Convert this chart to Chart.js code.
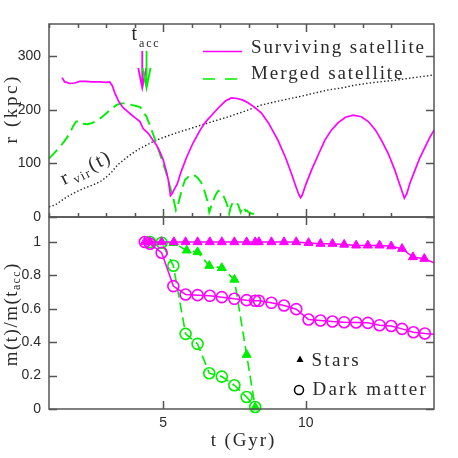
<!DOCTYPE html>
<html>
<head>
<meta charset="utf-8">
<script src="https://cdn.jsdelivr.net/npm/chart.js@4/dist/chart.umd.min.js"></script>
<style>
  html, body { margin: 0; padding: 0; background: #fff; }
  #wrap { position: relative; width: 458px; height: 458px; }
  canvas { position: absolute; left: 0; top: 0; }
</style>
</head>
<body>
<div id="wrap">
  <canvas id="bottom" width="458" height="458"></canvas>
  <canvas id="top" width="458" height="458"></canvas>
</div>
<script>
// ---- data: orbital radius (top panel) ----
const survT = [1.46, 1.55, 1.62, 1.73, 1.9, 2.08, 2.3, 2.5, 2.78, 3.0, 3.13, 3.22, 3.31, 3.45, 3.6, 3.84, 4.0, 4.19, 4.3, 4.48, 4.65, 4.77, 4.9, 5.0, 5.1, 5.18, 5.26, 5.32, 5.4, 5.5, 5.65, 5.83, 6.05, 6.3, 6.5, 6.76, 7.0, 7.2, 7.4, 7.6, 7.8, 7.98, 8.2, 8.45, 8.7, 9.03, 9.3, 9.5, 9.65, 9.76, 9.82, 9.88, 10.0, 10.2, 10.45, 10.67, 10.9, 11.14, 11.4, 11.67, 11.95, 12.2, 12.45, 12.66, 12.9, 13.13, 13.3, 13.46, 13.55, 13.65, 13.83, 14.0, 14.19, 14.35, 14.5];
const survR = [260, 252, 251, 249, 250, 253, 253, 252, 252, 251, 252, 245, 231, 215, 204, 193, 186, 178, 165, 156, 143, 134, 120, 107, 88, 70, 40, 44, 52, 62, 87, 112, 138, 162, 178, 193, 207, 217, 222, 221, 218, 213, 205, 194, 175, 143, 110, 81, 58, 42, 36, 41, 60, 87, 117, 143, 162, 176, 186, 190, 187, 178, 162, 143, 118, 87, 60, 35, 44, 62, 87, 110, 131, 148, 162];

const mergT = [1.0, 1.2, 1.38, 1.55, 1.73, 1.85, 1.95, 2.05, 2.2, 2.35, 2.5, 2.66, 2.85, 3.0, 3.2, 3.37, 3.55, 3.7, 3.9, 4.05, 4.19, 4.3, 4.42, 4.6, 4.77, 4.95, 5.12, 5.25, 5.36, 5.45, 5.52, 5.59, 5.68, 5.77, 5.9, 6.0, 6.12, 6.23, 6.33, 6.41, 6.48, 6.55, 6.62, 6.7, 6.76, 6.85, 6.94, 7.03, 7.11, 7.18, 7.25, 7.32, 7.37, 7.44, 7.52, 7.58, 7.64, 7.72, 7.77, 7.81, 7.86, 7.9, 7.95, 7.99, 8.05, 8.11, 8.2, 8.28];
const mergR = [109, 120, 131, 142, 156, 170, 178, 179, 174, 173, 175, 179, 186, 193, 202, 209, 212, 212, 209, 207, 205, 197, 187, 162, 137, 108, 81, 55, 35, 13, 22, 37, 55, 69, 76, 79, 77, 72, 65, 56, 44, 31, 9, 22, 31, 42, 49, 46, 40, 32, 22, 6, 18, 27, 29, 26, 22, 9, 16, 19, 15, 11, 12, 9, 8, 6, 6, 5];

const virT = [1.0, 1.1, 1.26, 1.45, 1.61, 1.85, 2.08, 2.3, 2.55, 2.8, 3.0, 3.2, 3.42, 3.7, 3.9, 4.1, 4.3, 4.6, 4.89, 5.2, 5.47, 5.9, 6.3, 6.8, 7.35, 7.9, 8.45, 9.1, 9.74, 10.3, 10.79, 11.3, 11.73, 12.4, 13.13, 13.8, 14.5];
const virR = [19, 20, 24, 31, 37, 44, 50, 55, 60, 66, 74, 84, 98, 110, 118, 125, 131, 139, 146, 152, 157, 164, 171, 179, 188, 198, 209, 217, 224, 231, 237, 241, 246, 251, 255, 260, 265];

// accretion times (surviving, merged)
const tAcc = [4.27, 4.42];

// ---- data: mass fractions (bottom panel) ----
const survStarT = [4.36, 4.54, 4.95, 5.38, 5.79, 6.21, 6.64, 7.06, 7.5, 7.93, 8.23, 8.36, 8.8, 9.24, 9.67, 10.1, 10.52, 10.94, 11.35, 11.77, 12.18, 12.59, 13.0, 13.38, 13.76, 14.16, 14.5];
const survStarM = [1, 1, 1, 1, 1, 1, 1, 1, 1, 1, 1, 1, 1, 1, 1, 0.995, 0.99, 0.99, 0.985, 0.98, 0.98, 0.98, 0.975, 0.96, 0.91, 0.9, 0.876];

const survDmT = [4.36, 4.54, 4.95, 5.36, 5.79, 6.21, 6.64, 7.06, 7.5, 7.93, 8.23, 8.36, 8.8, 9.24, 9.67, 10.1, 10.52, 10.94, 11.35, 11.77, 12.18, 12.59, 13.0, 13.38, 13.78, 14.18, 14.5];
const survDmM = [1.0, 0.99, 0.936, 0.736, 0.686, 0.682, 0.678, 0.67, 0.66, 0.652, 0.648, 0.648, 0.636, 0.62, 0.598, 0.536, 0.53, 0.524, 0.52, 0.518, 0.516, 0.502, 0.497, 0.48, 0.46, 0.452, 0.448];

const mergStarT = [4.54, 4.95, 5.36, 5.83, 6.21, 6.62, 7.06, 7.5, 7.93, 8.23];
const mergStarM = [1, 1, 0.995, 0.95, 0.94, 0.858, 0.845, 0.775, 0.325, 0.01];

const mergDmT = [4.54, 4.95, 5.36, 5.79, 6.21, 6.62, 7.06, 7.5, 7.93, 8.23];
const mergDmM = [1, 0.996, 0.858, 0.45, 0.39, 0.214, 0.194, 0.142, 0.072, 0.012];

// ---- tick labels ----
const tTickLabels = [5, 10];
const rTickLabels = [0, 100, 200, 300];
const mTickLabels = [0, 0.2, 0.4, 0.6, 0.8, 1];

const MAG = "#ff00ff";
const GRN = "#00ee00";
const INK = "#2a2a2a";
const SERIF = '"Liberation Serif", "Times New Roman", serif';
const SANS = '"Liberation Sans", Arial, sans-serif';

const xy = (xs, ys) => xs.map((x, i) => ({ x: x, y: ys[i] }));
const round2 = (v) => Math.round(v * 100) / 100;

// draw a string one glyph at a time so we can widen the spacing
function spacedWidth(ctx, s, sp) {
  let w = 0;
  for (const ch of s) w += ctx.measureText(ch).width;
  return w + sp * (s.length - 1);
}
function spacedText(ctx, s, x, y, sp) {
  for (const ch of s) {
    ctx.fillText(ch, x, y);
    x += ctx.measureText(ch).width + sp;
  }
  return x;
}

// box frame with inward ticks on all four sides
function framePlugin(yMajor) {
  return {
    id: "frame",
    afterDraw(chart) {
      const { ctx, chartArea: a } = chart;
      const xs = chart.scales.x;
      const ys = chart.scales.y;
      ctx.save();
      ctx.strokeStyle = "#555";
      ctx.lineWidth = 1.5;
      ctx.beginPath();
      xs.ticks.forEach((t) => {
        if (!Number.isInteger(t.value)) return;
        const px = Math.round(xs.getPixelForValue(t.value)) + 0.5;
        const len = tTickLabels.includes(t.value) ? 8 : 4;
        ctx.moveTo(px, a.bottom);
        ctx.lineTo(px, a.bottom - len);
        ctx.moveTo(px, a.top);
        ctx.lineTo(px, a.top + len);
      });
      ys.ticks.forEach((t) => {
        const py = Math.round(ys.getPixelForValue(t.value)) + 0.5;
        const len = yMajor(t.value) ? 8 : 4;
        ctx.moveTo(a.left, py);
        ctx.lineTo(a.left + len, py);
        ctx.moveTo(a.right, py);
        ctx.lineTo(a.right - len, py);
      });
      ctx.stroke();
      ctx.strokeRect(a.left, a.top, a.width, a.height);
      ctx.restore();
    },
  };
}

const topNotes = {
  id: "topNotes",
  afterDraw(chart) {
    const { ctx } = chart;
    const xs = chart.scales.x;
    ctx.save();
    ctx.fillStyle = INK;
    ctx.textBaseline = "alphabetic";

    // legend
    ctx.lineWidth = 1.7;
    ctx.strokeStyle = MAG;
    ctx.beginPath();
    ctx.moveTo(203, 51.5);
    ctx.lineTo(242, 51.5);
    ctx.stroke();
    ctx.strokeStyle = GRN;
    ctx.setLineDash([12, 10]);
    ctx.beginPath();
    ctx.moveTo(203, 79);
    ctx.lineTo(240, 79);
    ctx.stroke();
    ctx.setLineDash([]);
    ctx.font = "19px " + SERIF;
    spacedText(ctx, "Surviving satellite", 251, 52.5, 1.9);
    spacedText(ctx, "Merged satellite", 251, 78.5, 1.9);

    // t_acc label
    ctx.font = "20px " + SERIF;
    ctx.fillText("t", 131.5, 40);
    ctx.font = "12px " + SERIF;
    spacedText(ctx, "acc", 139, 46.5, 1.8);

    // arrows at accretion time
    [MAG, GRN].forEach((c, i) => {
      const x = xs.getPixelForValue(tAcc[i]);
      ctx.strokeStyle = c;
      ctx.lineWidth = 1.8;
      ctx.beginPath();
      ctx.moveTo(x, 51);
      ctx.lineTo(x, 87);
      ctx.moveTo(x - 4, 68);
      ctx.lineTo(x, 88);
      ctx.lineTo(x + 4, 68);
      ctx.stroke();
    });

    // r_vir(t) label
    ctx.save();
    ctx.translate(64, 185);
    ctx.rotate(-26 * Math.PI / 180);
    ctx.font = "20px " + SERIF;
    ctx.fillText("r", 0, 0);
    ctx.font = "13px " + SERIF;
    let cx = spacedText(ctx, "vir", 11, 4, 1.5);
    ctx.font = "20px " + SERIF;
    spacedText(ctx, "(t)", cx + 1, 0, 1.5);
    ctx.restore();

    // y title
    ctx.save();
    ctx.translate(16.5, 110);
    ctx.rotate(-Math.PI / 2);
    ctx.font = "19px " + SERIF;
    const w = spacedWidth(ctx, "r (kpc)", 2.6);
    spacedText(ctx, "r (kpc)", -w / 2, 0, 2.6);
    ctx.restore();

    ctx.restore();
  },
};

const bottomNotes = {
  id: "bottomNotes",
  afterDraw(chart) {
    const { ctx } = chart;
    ctx.save();
    ctx.fillStyle = INK;
    ctx.textBaseline = "alphabetic";

    // y title m(t)/m(t_acc)
    ctx.save();
    ctx.translate(16.5, 315);
    ctx.rotate(-Math.PI / 2);
    ctx.font = "19px " + SERIF;
    const sp = 1.5;
    const w1 = spacedWidth(ctx, "m(t)/m(t", sp);
    const w3 = ctx.measureText(")").width;
    ctx.font = "12px " + SERIF;
    const w2 = spacedWidth(ctx, "acc", 1.2);
    let x = -(w1 + w2 + w3 + 2 * sp) / 2;
    ctx.font = "19px " + SERIF;
    spacedText(ctx, "m(t)/m(t", x, 0, sp);
    x += w1 + sp;
    ctx.font = "12px " + SERIF;
    spacedText(ctx, "acc", x, 3, 1.2);
    x += w2 + sp;
    ctx.font = "19px " + SERIF;
    ctx.fillText(")", x, 0);
    ctx.restore();

    // x title
    ctx.font = "19px " + SERIF;
    const wx = spacedWidth(ctx, "t (Gyr)", 1.9);
    spacedText(ctx, "t (Gyr)", 242.5 - wx / 2, 445.5, 1.9);

    // symbol legend
    ctx.fillStyle = "#000";
    ctx.beginPath();
    ctx.moveTo(300, 355.5);
    ctx.lineTo(303.5, 362);
    ctx.lineTo(296.5, 362);
    ctx.closePath();
    ctx.fill();
    ctx.strokeStyle = "#000";
    ctx.lineWidth = 1.5;
    ctx.beginPath();
    ctx.arc(299, 390, 4.5, 0, Math.PI * 2);
    ctx.stroke();
    ctx.fillStyle = INK;
    ctx.font = "19px " + SERIF;
    spacedText(ctx, "Stars", 311.5, 365.5, 2.3);
    spacedText(ctx, "Dark matter", 312.5, 395, 2.2);

    ctx.restore();
  },
};

const tickFont = { family: SANS, size: 14 };

// ---- top panel: r(t) ----
new Chart(document.getElementById("top"), {
  type: "line",
  data: {
    datasets: [
      { data: xy(survT, survR), borderColor: MAG, borderWidth: 1.7, pointRadius: 0, tension: 0 },
      { data: xy(mergT, mergR), borderColor: GRN, borderWidth: 1.9, borderDash: [12, 6], pointRadius: 0, tension: 0 },
      { data: xy(virT, virR), borderColor: "#222", borderWidth: 1.4, borderDash: [1.4, 2.2], pointRadius: 0, tension: 0 },
    ],
  },
  options: {
    responsive: false,
    animation: false,
    events: [],
    clip: false,
    layout: { padding: { left: 0, right: 24, top: 24, bottom: 241 } },
    plugins: { legend: { display: false }, tooltip: { enabled: false } },
    scales: {
      x: {
        type: "linear", min: 1, max: 14.5,
        ticks: { display: false, stepSize: 1, autoSkip: false },
        grid: { display: false, drawTicks: false },
        border: { display: false },
        afterFit: (s) => { s.height = 0; },
      },
      y: {
        min: 0, max: 360,
        ticks: {
          stepSize: 20, autoSkip: false, padding: 8, font: tickFont, color: INK,
          callback: (v) => (rTickLabels.includes(v) ? String(v) : null),
        },
        grid: { display: false, drawTicks: false },
        border: { display: false },
        afterFit: (s) => { s.width = 49; },
      },
    },
  },
  plugins: [framePlugin((v) => rTickLabels.includes(v)), topNotes],
});

// ---- bottom panel: m(t)/m(t_acc) ----
const lastNoMark = (arr, r) => arr.map((_, i) => (i === arr.length - 1 ? 0 : r));

new Chart(document.getElementById("bottom"), {
  type: "line",
  data: {
    datasets: [
      {
        data: xy(survStarT, survStarM), borderColor: MAG, borderWidth: 1.5,
        pointStyle: "triangle", pointRadius: lastNoMark(survStarT, 5.2),
        pointBackgroundColor: MAG, pointBorderColor: MAG, pointBorderWidth: 1, tension: 0,
      },
      {
        data: xy(survDmT, survDmM), borderColor: MAG, borderWidth: 1.5,
        pointStyle: "circle", pointRadius: lastNoMark(survDmT, 5.5),
        pointBackgroundColor: "rgba(0,0,0,0)", pointBorderColor: MAG, pointBorderWidth: 1.6, tension: 0,
      },
      {
        data: xy(mergStarT, mergStarM), borderColor: GRN, borderWidth: 1.6, borderDash: [10, 5],
        pointStyle: "triangle", pointRadius: 5.2,
        pointBackgroundColor: GRN, pointBorderColor: GRN, pointBorderWidth: 1, tension: 0,
      },
      {
        data: xy(mergDmT, mergDmM), borderColor: GRN, borderWidth: 1.6, borderDash: [10, 5],
        pointStyle: "circle", pointRadius: 5.5,
        pointBackgroundColor: "rgba(0,0,0,0)", pointBorderColor: GRN, pointBorderWidth: 1.6, tension: 0,
      },
    ],
  },
  options: {
    responsive: false,
    animation: false,
    events: [],
    clip: false,
    layout: { padding: { left: 0, right: 24, top: 217, bottom: 0 } },
    plugins: { legend: { display: false }, tooltip: { enabled: false } },
    scales: {
      x: {
        type: "linear", min: 1, max: 14.5,
        ticks: {
          stepSize: 1, autoSkip: false, maxRotation: 0, padding: 6, font: tickFont, color: INK,
          callback: (v) => (tTickLabels.includes(v) ? String(v) : null),
        },
        grid: { display: false, drawTicks: false },
        border: { display: false },
        afterFit: (s) => { s.height = 49; },
      },
      y: {
        min: 0, max: 1.15,
        ticks: {
          stepSize: 0.05, autoSkip: false, padding: 8, font: tickFont, color: INK,
          callback: (v) => (mTickLabels.includes(round2(v)) ? String(round2(v)) : null),
        },
        grid: { display: false, drawTicks: false },
        border: { display: false },
        afterFit: (s) => { s.width = 49; },
      },
    },
  },
  plugins: [framePlugin((v) => mTickLabels.includes(round2(v))), bottomNotes],
});
</script>
</body>
</html>
